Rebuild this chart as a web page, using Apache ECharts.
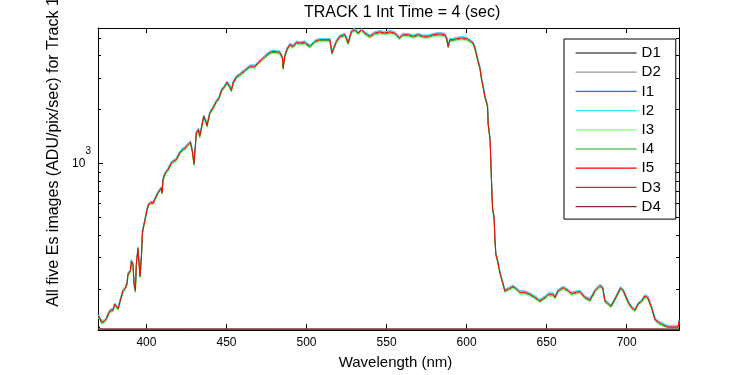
<!DOCTYPE html>
<html>
<head>
<meta charset="utf-8">
<script src="https://cdn.jsdelivr.net/npm/echarts@6/dist/echarts.min.js"></script>
<style>html,body{margin:0;padding:0;background:#fff;}#c{width:750px;height:375px;}</style>
</head>
<body>
<div id="c"></div>
<script>
const FONT = 'Liberation Sans, Arial, Helvetica, sans-serif';
const titleText = 'TRACK 1 Int Time = 4 (sec)';
const xName = 'Wavelength (nm)';
const yName = 'All five Es images (ADU/pix/sec) for Track 1';
const seriesNames = ['D1', 'D2', 'I1', 'I2', 'I3', 'I4', 'I5', 'D3', 'D4'];
const seriesColors = ['#000000', '#999999', '#0a7cff', '#40e8ff', '#80ff80', '#20b020', '#ff0000', '#8c4a4a', '#7f3030'];
const xTicks = [400, 450, 500, 550, 600, 650, 700];
const yMajorTicks = [1000];
const yMinorTicks = [200, 300, 400, 500, 600, 700, 800, 900, 2000, 3000, 4000, 5000];

const wavelengths = [
369.9, 371.0, 371.9, 373.5, 375.0, 376.4, 377.7, 379.1, 380.2, 381.3,
382.3, 383.3, 383.9, 385.4, 386.9, 387.9, 388.5, 390.0, 390.6, 391.6,
392.3, 393.1, 393.7, 394.7, 395.4, 396.0, 396.4, 396.9, 397.5, 398.3,
399.4, 400.4, 401.4, 402.7, 403.5, 404.4, 405.2, 406.2, 407.2, 408.3,
409.4, 409.8, 410.4, 411.4, 412.5, 413.5, 414.6, 415.6, 417.1, 418.7,
420.8, 422.5, 423.9, 426.0, 427.5, 428.7, 429.7, 431.2, 432.5, 433.3,
434.4, 435.8, 437.1, 437.9, 439.6, 441.6, 443.7, 445.4, 446.9, 448.9,
450.4, 452.1, 453.1, 454.1, 456.2, 458.3, 461.4, 464.6, 467.7, 469.7,
471.9, 473.9, 476.6, 479.1, 483.3, 485.0, 485.4, 486.4, 487.9, 489.6,
491.6, 493.7, 495.8, 498.9, 502.1, 505.2, 508.3, 511.4, 514.6, 515.9,
518.7, 520.8, 524.0, 526.0, 528.1, 530.2, 532.2, 534.4, 536.4, 539.6,
542.7, 545.8, 548.9, 552.1, 555.2, 557.9, 560.4, 563.5, 566.6, 569.7,
572.9, 576.0, 579.1, 583.3, 586.4, 587.5, 588.5, 589.6, 591.6, 593.7,
596.9, 600.0, 602.1, 604.1, 605.2, 606.2, 607.2, 608.3, 609.4, 610.4,
611.4, 612.5, 613.1, 613.5, 613.9, 614.7, 615.6, 616.2, 617.2, 617.7,
618.3, 619.4, 620.8, 622.5, 623.9, 626.0, 629.1, 631.2, 633.3, 636.4,
639.6, 642.7, 645.8, 649.0, 651.0, 654.1, 655.2, 657.2, 660.4, 663.5,
665.6, 668.7, 670.8, 673.9, 677.1, 680.2, 683.3, 685.0, 686.4, 687.5,
690.2, 692.7, 696.2, 697.9, 701.0, 703.1, 705.2, 707.2, 709.4, 711.4,
713.1, 715.6, 717.7, 719.7, 721.9, 723.9, 726.0, 732.2, 732.7
];

const i5 = [
142, 137, 131, 132, 137, 147, 153, 153, 165, 161,
156, 158, 176, 196, 203, 216, 242, 253, 287, 275,
213, 196, 275, 337, 334, 237, 232, 306, 413, 450,
501, 557, 594, 607, 619, 607, 633, 639, 690, 704,
735, 690, 818, 872, 906, 930, 950, 1013, 1034, 1057,
1151, 1201, 1216, 1280, 1318, 1175, 1000, 1487, 1552, 1424,
1586, 1840, 1726, 1633, 1921, 2049, 2229, 2328, 2567, 2702,
2843, 2681, 2567, 2821, 3046, 3138, 3304, 3490, 3490, 3646,
3803, 3936, 4143, 4230, 4175, 3886, 3419, 3966, 4362, 4608,
4510, 4747, 4711, 4747, 4508, 4808, 4914, 4914, 4914, 4150,
4808, 5126, 5239, 4711, 5465, 5585, 5354, 5585, 5354, 5126,
5354, 5422, 5354, 5422, 5354, 5022, 5239, 5239, 5126, 5239,
5126, 5126, 5239, 5285, 5239, 5022, 4508, 4914, 4914, 4977,
5022, 4977, 4852, 4711, 4418, 4055, 3722, 3433, 2944, 2674,
2377, 2193, 2091, 1654, 1552, 1365, 787, 569, 501, 379,
313, 287, 248, 218, 196, 200, 207, 200, 192, 192,
187, 180, 172, 180, 187, 187, 180, 196, 204, 196,
189, 192, 194, 180, 174, 196, 209, 204, 172, 169,
161, 176, 203, 196, 169, 158, 153, 166, 172, 183,
180, 158, 136, 131, 128, 125, 123, 123, 133
];

const i2 = [
144, 139, 133, 134, 139, 149, 155, 155, 167, 163,
158, 160, 179, 199, 206, 219, 246, 257, 291, 279,
216, 199, 279, 342, 339, 241, 235, 311, 419, 457,
509, 565, 603, 616, 628, 616, 642, 649, 700, 715,
746, 700, 830, 885, 920, 944, 964, 1028, 1050, 1073,
1168, 1219, 1234, 1299, 1338, 1193, 1015, 1509, 1575, 1445,
1610, 1868, 1752, 1657, 1950, 2080, 2262, 2363, 2606, 2743,
2886, 2721, 2606, 2863, 3092, 3185, 3354, 3542, 3542, 3701,
3860, 3995, 4205, 4293, 4238, 3944, 3470, 4025, 4427, 4677,
4578, 4818, 4782, 4818, 4576, 4880, 4988, 4988, 4988, 4212,
4880, 5203, 5318, 4782, 5547, 5669, 5434, 5669, 5434, 5203,
5434, 5503, 5434, 5503, 5434, 5097, 5318, 5318, 5203, 5318,
5203, 5203, 5318, 5364, 5318, 5097, 4576, 4988, 4988, 5052,
5097, 5052, 4925, 4782, 4484, 4116, 3778, 3484, 2988, 2714,
2413, 2226, 2122, 1679, 1575, 1385, 799, 578, 509, 385,
318, 291, 252, 221, 199, 203, 210, 203, 195, 195,
190, 183, 175, 183, 190, 190, 183, 199, 207, 199,
192, 195, 197, 183, 177, 199, 212, 207, 175, 172,
163, 179, 206, 199, 172, 160, 155, 168, 175, 186,
183, 160, 138, 133, 130, 127, 125, 125, 135
];

const i4 = [
140, 135, 129, 130, 135, 145, 151, 151, 163, 159,
154, 156, 174, 194, 201, 213, 239, 250, 284, 272,
210, 194, 272, 333, 330, 234, 229, 302, 408, 445,
495, 550, 587, 600, 612, 600, 625, 631, 682, 696,
726, 682, 808, 862, 895, 919, 939, 1001, 1022, 1044,
1137, 1187, 1201, 1265, 1302, 1161, 988, 1469, 1533, 1407,
1567, 1818, 1705, 1613, 1898, 2024, 2202, 2300, 2536, 2670,
2809, 2649, 2536, 2787, 3009, 3100, 3264, 3448, 3448, 3602,
3757, 3889, 4093, 4179, 4125, 3839, 3378, 3918, 4310, 4553,
4456, 4690, 4654, 4690, 4454, 4750, 4855, 4855, 4855, 4100,
4750, 5064, 5176, 4654, 5399, 5518, 5290, 5518, 5290, 5064,
5290, 5357, 5290, 5357, 5290, 4962, 5176, 5176, 5064, 5176,
5064, 5064, 5176, 5222, 5176, 4962, 4454, 4855, 4855, 4917,
4962, 4917, 4794, 4654, 4365, 4006, 3677, 3392, 2909, 2642,
2348, 2167, 2066, 1634, 1533, 1349, 778, 562, 495, 374,
309, 284, 245, 215, 194, 198, 205, 198, 190, 190,
185, 178, 170, 178, 185, 185, 178, 194, 202, 194,
187, 190, 192, 178, 172, 194, 206, 202, 170, 167,
159, 174, 201, 194, 167, 156, 151, 164, 170, 181,
178, 156, 134, 129, 126, 124, 122, 122, 131
];

const i3 = [
138, 134, 128, 129, 134, 143, 149, 149, 161, 157,
152, 154, 172, 191, 198, 211, 236, 247, 280, 268,
208, 191, 268, 329, 326, 231, 226, 298, 403, 439,
488, 543, 579, 592, 604, 592, 617, 623, 673, 686,
717, 673, 798, 850, 883, 907, 926, 988, 1008, 1031,
1122, 1171, 1186, 1248, 1285, 1146, 975, 1450, 1513, 1388,
1546, 1794, 1683, 1592, 1873, 1998, 2173, 2270, 2503, 2634,
2772, 2614, 2503, 2750, 2970, 3060, 3221, 3403, 3403, 3555,
3708, 3838, 4039, 4124, 4071, 3789, 3334, 3867, 4253, 4493,
4397, 4628, 4593, 4628, 4395, 4688, 4791, 4791, 4791, 4046,
4688, 4998, 5108, 4593, 5328, 5445, 5220, 5445, 5220, 4998,
5220, 5286, 5220, 5286, 5220, 4896, 5108, 5108, 4998, 5108,
4998, 4998, 5108, 5153, 5108, 4896, 4395, 4791, 4791, 4853,
4896, 4853, 4731, 4593, 4308, 3954, 3629, 3347, 2870, 2607,
2318, 2138, 2039, 1613, 1513, 1331, 767, 555, 488, 370,
305, 280, 242, 213, 191, 195, 202, 195, 187, 187,
182, 176, 168, 176, 182, 182, 176, 191, 199, 191,
184, 187, 189, 176, 170, 191, 204, 199, 168, 165,
157, 172, 198, 191, 165, 154, 149, 162, 168, 178,
176, 154, 133, 128, 125, 122, 120, 120, 130
];

// I1 is drawn underneath I2 and follows the same readings
const i1 = i2;

const darkWl = [369.9, 371.4, 732.7];
const d1 = [125, 119.5, 119.5];
const d2 = [119.5, 119.5, 119.5];
const d3 = [119.5, 119.5, 119.5];
const d4 = [119.5, 119.5, 119.5];

const X_MIN = 369.75, X_MAX = 732.7;
const Y_MIN = 118.3, Y_MAX = 5706;

function pairs(xs, ys) { return xs.map((x, k) => [x, ys[k]]); }
const seriesData = [
  pairs(darkWl, d1), pairs(darkWl, d2),
  pairs(wavelengths, i1), pairs(wavelengths, i2), pairs(wavelengths, i3),
  pairs(wavelengths, i4), pairs(wavelengths, i5),
  pairs(darkWl, d3), pairs(darkWl, d4)
];

const black = { color: '#000', width: 1 };
function yAxisCfg(pos, tickVals, tickLen, showLine, label) {
  return {
    type: 'log', logBase: 10, position: pos, min: Y_MIN, max: Y_MAX,
    axisLine: { show: showLine, lineStyle: black },
    axisTick: { show: true, inside: true, length: tickLen, customValues: tickVals, lineStyle: black },
    axisLabel: label || { show: false },
    splitLine: { show: false }, minorTick: { show: false }
  };
}

const chart = echarts.init(document.getElementById('c'), null, { renderer: 'canvas' });
chart.setOption({
  animation: false,
  backgroundColor: '#fff',
  title: {
    text: titleText, left: 304, top: 4.5, padding: 0,
    textStyle: { fontFamily: FONT, fontSize: 16, fontWeight: 'normal', color: '#000' }
  },
  grid: { left: 98, right: 71, top: 28, bottom: 44, containLabel: false },
  legend: {
    orient: 'vertical', left: 564, top: 39,
    padding: [6.5, 15, 5, 11], itemGap: 4.2, itemWidth: 61, itemHeight: 14,
    backgroundColor: '#fff', borderColor: '#000', borderWidth: 1, borderRadius: 0,
    selectedMode: false,
    itemStyle: { opacity: 0, borderWidth: 0 },
    lineStyle: { width: 1.2 },
    textStyle: { fontFamily: FONT, fontSize: 15, color: '#000' },
    data: seriesNames
  },
  xAxis: [
    {
      type: 'value', position: 'bottom', min: X_MIN, max: X_MAX,
      axisLine: { show: true, onZero: false, lineStyle: black },
      axisTick: { show: true, inside: true, length: 6, customValues: xTicks, lineStyle: black },
      axisLabel: { show: true, customValues: xTicks, color: '#000', fontFamily: FONT, fontSize: 12, margin: 7,
                   formatter: v => String(v) },
      splitLine: { show: false },
      name: xName, nameLocation: 'middle', nameGap: 25,
      nameTextStyle: { fontFamily: FONT, fontSize: 15, color: '#000', padding: [0, 0, 0, 14] }
    },
    {
      type: 'value', position: 'top', min: X_MIN, max: X_MAX,
      axisLine: { show: true, onZero: false, lineStyle: black },
      axisTick: { show: true, inside: true, length: 5, customValues: xTicks, lineStyle: black },
      axisLabel: { show: false },
      splitLine: { show: false }
    }
  ],
  yAxis: [
    yAxisCfg('left', yMajorTicks, 5, true, {
      show: true, customValues: yMajorTicks, formatter: () => '{b|10}{s|3}',
      color: '#000', fontFamily: FONT, margin: 7,
      rich: {
        b: { fontFamily: FONT, fontSize: 12, lineHeight: 12, color: '#000' },
        s: { fontFamily: FONT, fontSize: 10, lineHeight: 10, color: '#000', padding: [0, 0, 25, 0] }
      }
    }),
    yAxisCfg('left', yMinorTicks, 3, false, null),
    yAxisCfg('right', yMajorTicks, 6, true, null),
    yAxisCfg('right', yMinorTicks, 3, false, null)
  ],
  graphic: [{
    type: 'text', x: 54, y: 152, rotation: Math.PI / 2, silent: true,
    style: { text: yName, fontFamily: FONT, fontSize: 16, fill: '#000', align: 'center', verticalAlign: 'middle' }
  }],
  series: seriesNames.map((name, k) => ({
    name: name, type: 'line', xAxisIndex: 0, yAxisIndex: 0,
    data: seriesData[k], showSymbol: false, symbol: 'none', clip: true,
    color: seriesColors[k],
    lineStyle: { color: seriesColors[k], width: 1 },
    emphasis: { disabled: true }
  }))
});
</script>
</body>
</html>
